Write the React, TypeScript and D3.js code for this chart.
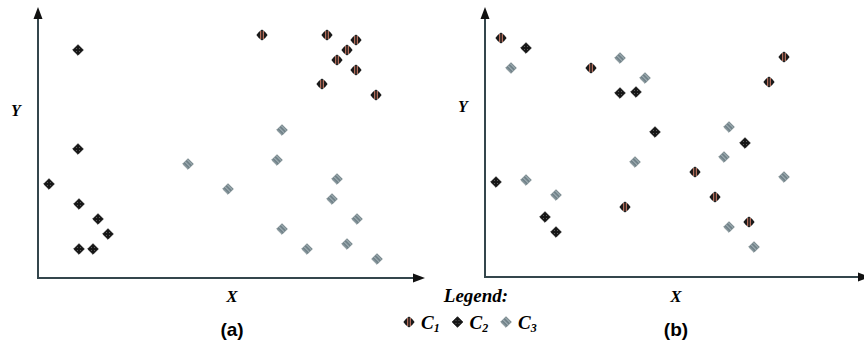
import React from "react";
import * as d3 from "d3";

// Panel (a) data (abstract units)
const aC1: [number, number][] = [[22.4,24.3],[28.9,24.3],[31.8,23.8],[30.9,22.8],[29.9,21.8],[31.8,20.8],[28.4,19.4],[33.8,18.3]];
const aC2: [number, number][] = [[4.0,22.8],[4.0,12.9],[1.1,9.4],[4.1,7.4],[6.0,5.9],[7.0,4.4],[4.1,2.9],[5.5,2.9]];
const aC3: [number, number][] = [[24.4,14.8],[15.0,11.4],[23.9,11.8],[19.0,8.9],[29.9,9.9],[29.4,7.9],[31.9,5.9],[24.4,4.9],[26.9,2.9],[30.9,3.4],[33.9,1.9]];
// Panel (b) data
const bC1: [number, number][] = [[1.6,23.9],[10.6,20.9],[29.9,22.0],[28.4,19.5],[21.0,10.5],[23.0,8.0],[26.4,5.5],[14.0,7.0]];
const bC2: [number, number][] = [[4.1,22.9],[13.5,18.4],[15.1,18.5],[17.0,14.5],[26.0,13.4],[1.1,9.5],[6.0,6.0],[7.1,4.5]];
const bC3: [number, number][] = [[2.6,20.9],[13.5,21.9],[16.0,19.9],[15.0,11.5],[24.4,15.0],[23.9,12.0],[29.9,10.0],[24.4,5.0],[26.9,3.0],[4.1,9.7],[7.1,8.2]];

const classes = ["C1", "C2", "C3"];
const panelLabels = ["(a)", "(b)"];

const AXIS = "#34464c";
const diamond = (r: number) => `M0,${-r}L${r},0L0,${r}L${-r},0Z`;
const roundDiamond = (r: number) =>
  `M0,${-r}Q${r * 0.62},${-r * 0.62} ${r},0Q${r * 0.62},${r * 0.62} 0,${r}Q${-r * 0.62},${r * 0.62} ${-r},0Q${-r * 0.62},${-r * 0.62} 0,${-r}Z`;

function Marker({ cls, x, y }: { cls: number; x: number; y: number }) {
  if (cls === 0) {
    return (
      <g transform={`translate(${x},${y})`}>
        <path d={roundDiamond(5.6)} fill="#1a1a1a" />
        <rect x={-1.8} y={-4} width={1} height={8} fill="#d9826a" />
        <rect x={0.8} y={-4} width={1} height={8} fill="#d9826a" />
      </g>
    );
  }
  const fills = ["", "url(#pC2)", "url(#pC3)"];
  const strokes = ["", "#111", "#6c7c82"];
  return (
    <g transform={`translate(${x},${y})`}>
      <path d={diamond(5.3)} fill={fills[cls]} stroke={strokes[cls]} strokeWidth={0.8} />
    </g>
  );
}

function Panel({ x0, x1, yTop, yBot, data }: any) {
  const xs = d3.scaleLinear().domain([0, 40]).range([x0, x0 + 400]);
  const ys = d3.scaleLinear().domain([0, 27]).range([yBot, yBot - 270]);
  return (
    <g>
      <line x1={x0} y1={yBot} x2={x0} y2={yTop + 8} stroke={AXIS} strokeWidth={2} />
      <path d={`M${x0},${yTop}L${x0 + 4.5},${yTop + 12}L${x0 - 4.5},${yTop + 12}Z`} fill="#111" />
      <line x1={x0 - 1} y1={yBot} x2={x1 - 8} y2={yBot} stroke={AXIS} strokeWidth={2} />
      <path d={`M${x1},${yBot}L${x1 - 12},${yBot - 4.5}L${x1 - 12},${yBot + 4.5}Z`} fill="#111" />
      {data.map((series: [number, number][], ci: number) =>
        series.map((d, i) => <Marker key={ci + "-" + i} cls={ci} x={xs(d[0])} y={ys(d[1])} />)
      )}
    </g>
  );
}

export default function App() {
  const serif = "'Liberation Serif', 'DejaVu Serif', serif";
  const sans = "'Liberation Sans', Arial, sans-serif";
  return (
    <svg width={864} height={356} style={{ position: "absolute", left: 0, top: 0 }}>
      <defs>
        <pattern id="pC2" patternUnits="userSpaceOnUse" width={3} height={3}>
          <rect width={3} height={3} fill="#161616" />
          <rect x={1} y={1} width={1} height={1} fill="#5a5a5a" />
        </pattern>
        <pattern id="pC3" patternUnits="userSpaceOnUse" width={3} height={3} patternTransform="rotate(45)">
          <rect width={3} height={3} fill="#72838a" />
          <rect width={3} height={1} fill="#a3b1b6" />
        </pattern>
      </defs>
      <rect width={864} height={356} fill="#fff" />
      <Panel x0={38} x1={425} yTop={7} yBot={278} data={[aC1, aC2, aC3]} />
      <Panel x0={485} x1={870} yTop={7} yBot={277} data={[bC1, bC2, bC3]} />

      <text x={16} y={116} fontFamily={serif} fontStyle="italic" fontWeight="bold" fontSize={16} textAnchor="middle">Y</text>
      <text x={463} y={112} fontFamily={serif} fontStyle="italic" fontWeight="bold" fontSize={16} textAnchor="middle">Y</text>
      <text x={232} y={302} fontFamily={serif} fontStyle="italic" fontWeight="bold" fontSize={17} textAnchor="middle">X</text>
      <text x={676} y={302} fontFamily={serif} fontStyle="italic" fontWeight="bold" fontSize={17} textAnchor="middle">X</text>

      <text x={232} y={336} fontFamily={sans} fontWeight="bold" fontSize={19} textAnchor="middle">{panelLabels[0]}</text>
      <text x={676} y={336} fontFamily={sans} fontWeight="bold" fontSize={19} textAnchor="middle">{panelLabels[1]}</text>

      <text x={476} y={302} fontFamily={serif} fontStyle="italic" fontWeight="bold" fontSize={19} textAnchor="middle">Legend:</text>
      {classes.map((c, i) => {
        const mx = 409 + i * 48.5;
        return (
          <g key={c}>
            <Marker cls={i} x={mx} y={322} />
            <text x={mx + 12} y={329} fontFamily={serif} fontStyle="italic" fontWeight="bold" fontSize={19}>
              {c[0]}
              <tspan fontSize={12} dy={3}>{c.slice(1)}</tspan>
            </text>
          </g>
        );
      })}
    </svg>
  );
}
